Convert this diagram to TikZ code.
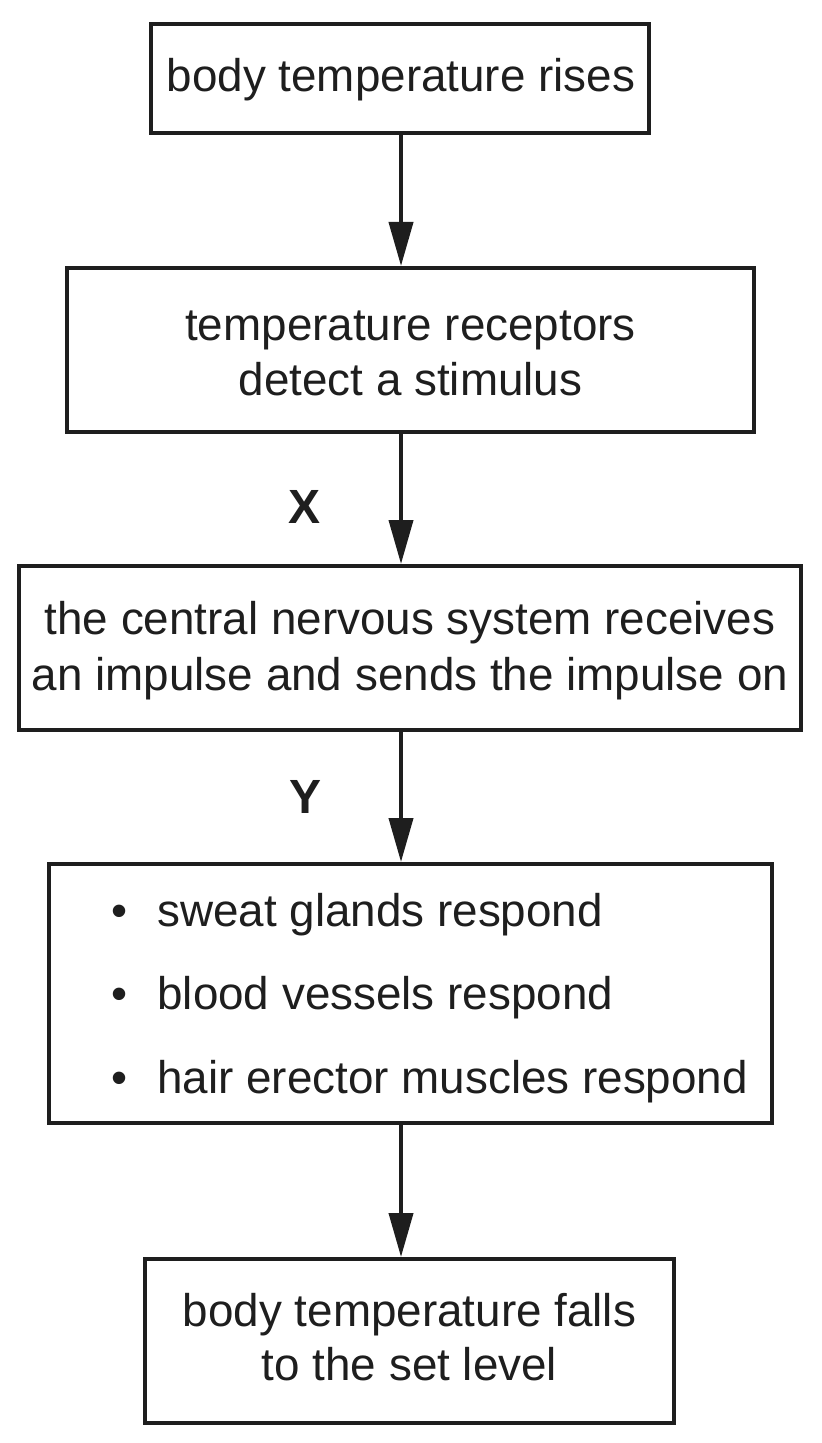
\documentclass[tikz,border=0pt]{standalone}
\usepackage{fontspec}
\setmainfont{Liberation Sans}
\usetikzlibrary{arrows.meta}
\definecolor{ink}{RGB}{30,30,30}
\begin{document}
\begin{tikzpicture}[x=0.5pt,y=-0.5pt,
  box/.style={draw=ink, line width=2pt, rectangle, inner sep=0pt, outer sep=0pt},
  txt/.style={text=ink, font=\fontsize{22.9pt}{27pt}\selectfont, inner sep=0pt, anchor=base},
  item/.style={txt, anchor=base west},
  lbl/.style={text=ink, font=\fontsize{24pt}{28pt}\selectfont\bfseries, inner sep=0pt, anchor=center},
  arr/.style={draw=ink, line width=2pt, shorten >=1pt, -{Triangle[length=22pt,width=12pt]}}]
\useasboundingbox (0,0) rectangle (822,1443);

% boxes
\node[box, minimum width=249pt, minimum height=54.5pt] (b1) at (400,78.5) {};
\node[box, minimum width=343.5pt, minimum height=82pt] (b2) at (410.5,350) {};
\node[box, minimum width=391pt, minimum height=82pt] (b3) at (410,648) {};
\node[box, minimum width=361.5pt, minimum height=129.5pt] (b4) at (410.5,993.5) {};
\node[box, minimum width=264.5pt, minimum height=82pt] (b5) at (409.5,1341) {};

% texts
\node[txt] (t1) at (401,92) {body temperature rises};
\node[txt] (t2a) at (410.5,341) {temperature receptors};
\node[txt] (t2b) at (410.5,395) {detect a stimulus};
\node[txt] (t3a) at (410,634) {the central nervous system receives};
\node[txt] (t3b) at (410,690) {an impulse and sends the impulse on};
\node[txt] (d1) at (120,926) {•};
\node[txt] (d2) at (120,1009) {•};
\node[txt] (d3) at (120,1093) {•};
\node[item] (t4a) at (157,926) {sweat glands respond};
\node[item] (t4b) at (157,1009) {blood vessels respond};
\node[item] (t4c) at (157,1093) {hair erector muscles respond};
\node[txt] (t5a) at (409.5,1326) {body temperature falls};
\node[txt] (t5b) at (409.5,1380) {to the set level};

% labels on the nerve pathways
\node[lbl] (lx) at (305,507) {X};
\node[lbl] (ly) at (306,797) {Y};

% connectors
\coordinate (ax) at (401,0);
\draw[arr] (b1.south -| ax) -- (b2.north -| ax);
\draw[arr] (b2.south -| ax) -- (b3.north -| ax);
\draw[arr] (b3.south -| ax) -- (b4.north -| ax);
\draw[arr] (b4.south -| ax) -- (b5.north -| ax);
\end{tikzpicture}
\end{document}
